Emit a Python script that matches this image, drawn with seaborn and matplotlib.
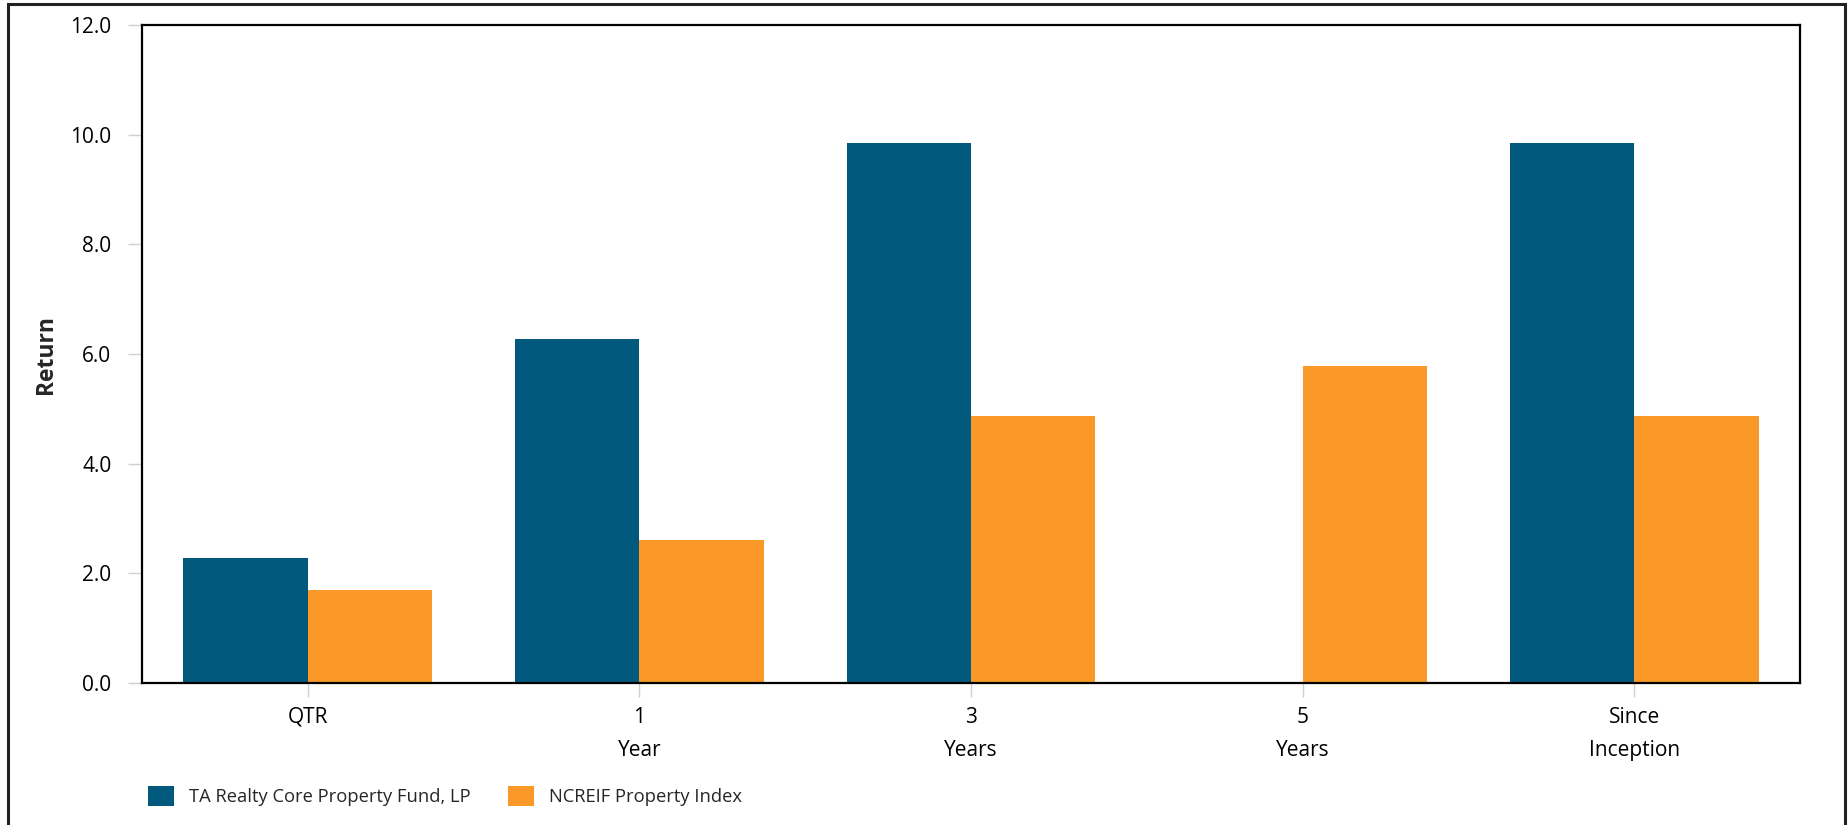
import numpy as np
import pandas as pd
import matplotlib
matplotlib.use("Agg")
import matplotlib.pyplot as plt
import seaborn as sns
from matplotlib.patches import Rectangle

# veriler
kategoriler = ["QTR", "1\nYear", "3\nYears", "5\nYears", "Since\nInception"]
fon_adi = "TA Realty Core Property Fund, LP"
endeks_adi = "NCREIF Property Index"
fon_getiri = [2.28, 6.27, 9.85, np.nan, 9.85]
endeks_getiri = [1.70, 2.61, 4.87, 5.78, 4.87]
y_ticks = [0, 2, 4, 6, 8, 10, 12]

renkler = {fon_adi: "#015a7d", endeks_adi: "#fa9828"}

df = pd.DataFrame({
    "donem": kategoriler * 2,
    "seri": [fon_adi] * len(kategoriler) + [endeks_adi] * len(kategoriler),
    "getiri": fon_getiri + endeks_getiri,
}).dropna()

sns.set_theme(style="white")
plt.rcParams["font.family"] = ["Open Sans", "DejaVu Sans"]

fig = plt.figure(figsize=(18.49, 8.25), dpi=100)
ax = fig.add_axes([142 / 1849, 1 - 683 / 825, (1800 - 142) / 1849, (683 - 25) / 825])

sns.barplot(data=df, x="donem", y="getiri", hue="seri", order=kategoriler,
            hue_order=[fon_adi, endeks_adi], palette=renkler, width=0.75,
            errorbar=None, saturation=1, linewidth=0, ax=ax, legend=True)

ax.set_xlim(-0.5, len(kategoriler) - 0.5)
ax.set_ylim(0, 12)
ax.set_yticks(y_ticks)
ax.set_yticklabels([f"{v:.1f}" for v in y_ticks])
ax.set_xlabel("")
ax.set_ylabel("Return", fontsize=16.5, fontweight="bold")
ax.yaxis.set_label_coords(-84 / 1658, 0.5)
ax.tick_params(axis="both", labelsize=15, length=10, width=1, color="#d0d0d0",
               colors="black", direction="out")
ax.tick_params(axis="y", pad=12, left=True)
ax.tick_params(axis="x", pad=7, bottom=True)
for t in ax.get_xticklabels():
    t.set_linespacing(1.75)
    t.set_verticalalignment("top")
for s in ax.spines.values():
    s.set_color("black")
    s.set_linewidth(1.6)

# lejant
h, l = ax.get_legend_handles_labels()
ax.legend_.remove()
fig.legend(h, l, loc="center left", bbox_to_anchor=(132 / 1849, 1 - 796 / 825),
           ncol=2, frameon=False, fontsize=13.2, handlelength=1.37, handleheight=1.37,
           handletextpad=0.85, columnspacing=2.05)

# dis cerceve
fig.patches.append(Rectangle((8 / 1849, -0.05), (1845 - 8) / 1849, 1.05 - 4 / 825,
                             transform=fig.transFigure, fill=False,
                             edgecolor="#222222", linewidth=2.2))

fig.savefig("out.png", dpi=100)
